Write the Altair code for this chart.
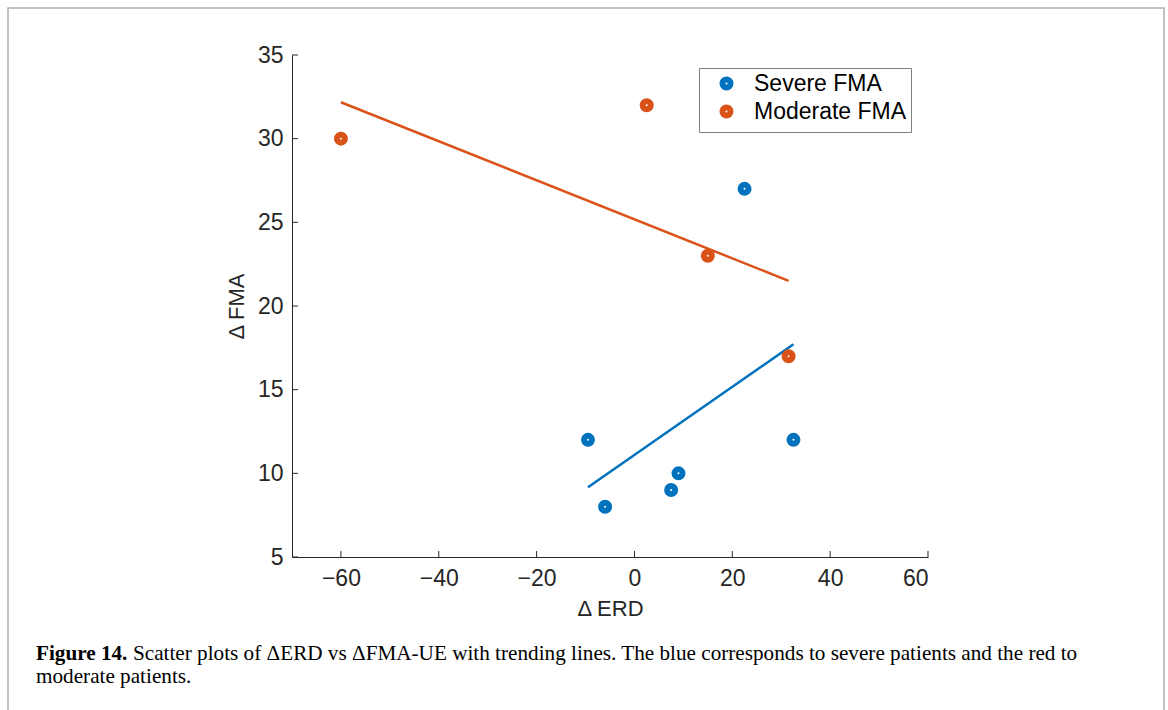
import altair as alt
import pandas as pd

# Data
severe_erd = [-9.5, -6.0, 7.5, 9.0, 22.5, 32.5]
severe_fma = [12, 8, 9, 10, 27, 12]
moderate_erd = [-60.0, 2.5, 15.0, 31.5]
moderate_fma = [30, 32, 23, 17]
groups = ["Severe FMA", "Moderate FMA"]
colors = ["#0072BD", "#D95319"]
x_ticks = [-60, -40, -20, 0, 20, 40, 60]
y_ticks = [5, 10, 15, 20, 25, 30, 35]
caption_bold = "Figure 14."
caption_line1 = "Scatter plots of \u0394ERD vs \u0394FMA-UE with trending lines. The blue corresponds to severe patients and the red to"
caption_line2 = "moderate patients."

df = pd.DataFrame({
    "erd": severe_erd + moderate_erd,
    "fma": severe_fma + moderate_fma,
    "group": [groups[0]] * len(severe_erd) + [groups[1]] * len(moderate_erd),
})
xt = pd.DataFrame({"erd": x_ticks})
yt = pd.DataFrame({"fma": y_ticks})

W, H = 636, 502
L, T = 292, 55
AX = "#262626"
SANS = "Liberation Sans"
SERIF = "Liberation Serif"

xs = alt.Scale(domain=[-70, 60], nice=False, zero=False)
ys = alt.Scale(domain=[5, 35], nice=False, zero=False)
cs = alt.Scale(domain=groups, range=colors)

x_axis = alt.Axis(values=x_ticks, title="\u0394 ERD", ticks=False, grid=False,
                  domainColor=AX, domainWidth=1, labelColor=AX, labelFont=SANS,
                  labelFontSize=23, labelPadding=10, titleFont=SANS, titleFontSize=22,
                  titleFontWeight="normal", titleColor=AX, titlePadding=8)
y_axis = alt.Axis(values=y_ticks, title="\u0394 FMA", ticks=False, grid=False,
                  domainColor=AX, domainWidth=1, labelColor=AX, labelFont=SANS,
                  labelFontSize=23, labelPadding=9, titleFont=SANS, titleFontSize=22,
                  titleFontWeight="normal", titleColor=AX, titlePadding=9)

legend = alt.Legend(title=None, orient="none", legendX=407, legendY=13,
                    strokeColor="#7f7f7f", fillColor="white", padding=4,
                    labelFont=SANS, labelFontSize=23, labelColor="black",
                    symbolType="circle", symbolSize=64, symbolStrokeWidth=6,
                    symbolFillColor="white", symbolOffset=12, labelOffset=16,
                    rowPadding=-5, labelLimit=300)

frame = alt.Chart(pd.DataFrame({"a": [0]})).mark_rect(
    fillOpacity=0, stroke="#b0b0b0", strokeWidth=1.5
).encode(x=alt.value(8 - L), x2=alt.value(1164 - L), y=alt.value(8 - T), y2=alt.value(760 - T))

lines = alt.Chart(df).transform_regression(
    "erd", "fma", groupby=["group"]
).mark_line(strokeWidth=2.5).encode(
    x=alt.X("erd:Q", scale=xs, axis=x_axis),
    y=alt.Y("fma:Q", scale=ys, axis=y_axis),
    color=alt.Color("group:N", scale=cs, legend=legend),
)

points = alt.Chart(df).mark_point(
    filled=False, fill="white", fillOpacity=1, strokeWidth=6, size=64, opacity=1
).encode(
    x=alt.X("erd:Q", scale=xs, axis=x_axis),
    y=alt.Y("fma:Q", scale=ys, axis=y_axis),
    color=alt.Color("group:N", scale=cs, legend=legend),
)

xtick_marks = alt.Chart(xt).mark_rule(color=AX, strokeWidth=1).encode(
    x=alt.X("erd:Q", scale=xs, axis=x_axis), y=alt.value(H), y2=alt.value(H - 6))
ytick_marks = alt.Chart(yt).mark_rule(color=AX, strokeWidth=1).encode(
    y=alt.Y("fma:Q", scale=ys, axis=y_axis), x=alt.value(0), x2=alt.value(6))

cap = pd.DataFrame({"a": [0]})
FS = 21.2
cap_b = alt.Chart(cap).mark_text(
    text=caption_bold, font=SERIF, fontSize=FS, fontWeight="bold", align="left",
    baseline="alphabetic", color="black"
).encode(x=alt.value(36 - L), y=alt.value(660 - T))
cap_1 = alt.Chart(cap).mark_text(
    text=caption_line1, font=SERIF, fontSize=FS, align="left",
    baseline="alphabetic", color="black"
).encode(x=alt.value(133 - L), y=alt.value(660 - T))
cap_2 = alt.Chart(cap).mark_text(
    text=caption_line2, font=SERIF, fontSize=FS, align="left",
    baseline="alphabetic", color="black"
).encode(x=alt.value(36 - L), y=alt.value(683 - T))

chart = alt.layer(frame, lines, points, xtick_marks, ytick_marks, cap_b, cap_1, cap_2).properties(
    width=W, height=H,
    autosize=alt.AutoSizeParams(type="none"),
    padding={"left": L, "top": T, "right": 1168 - L - W, "bottom": 710 - T - H},
    background="white",
).configure_view(stroke=None)

chart.save("out.html", embed_options={"renderer": "svg", "actions": False})
